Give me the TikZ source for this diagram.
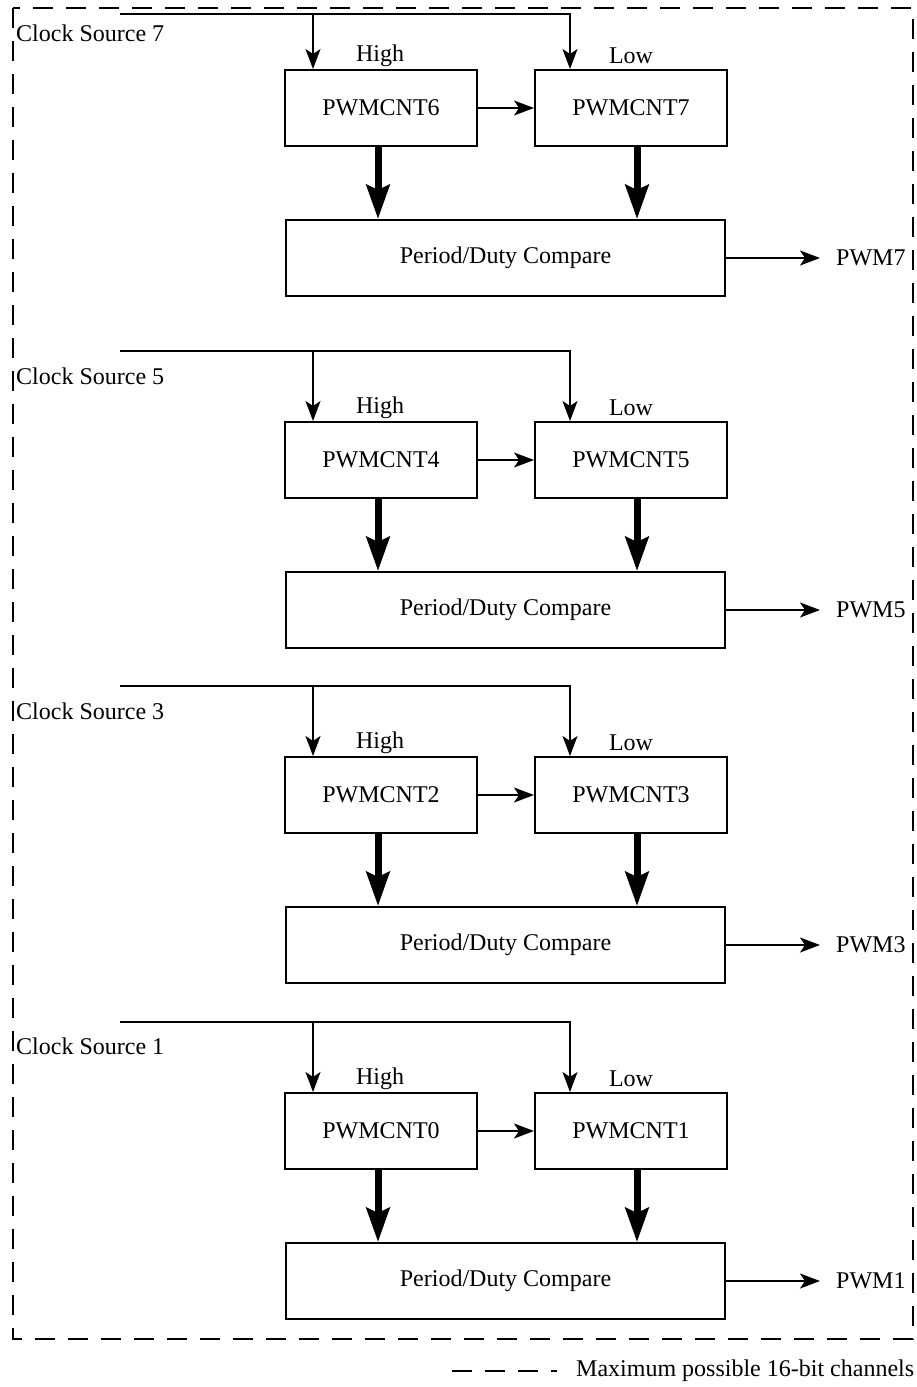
\documentclass[tikz,border=0pt]{standalone}
\usepackage{fontspec}
\setmainfont{Liberation Serif}
\usetikzlibrary{arrows.meta}
\tikzset{
  txt/.style={font=\fontsize{24}{28}\selectfont, inner sep=0pt},
  regbox/.style={draw, line width=2pt, minimum width=192pt, minimum height=76pt, font=\fontsize{24}{28}\selectfont},
  cmpbox/.style={draw, line width=2pt, minimum width=439pt, minimum height=76pt, font=\fontsize{24}{28}\selectfont},
  thinarrow/.style={line width=2pt, -{Stealth[length=20pt,width=15pt,inset=5pt]}},
  thickarrow/.style={line width=7pt, -{Stealth[length=34pt,width=23pt,inset=5pt]}},
  boundary/.style={line width=2.2pt, dash pattern=on 20pt off 13pt},
}
\begin{document}
\begin{tikzpicture}[x=1pt,y=-1pt]
\useasboundingbox (0,0) rectangle (916,1387);
\draw[boundary] (13,8) rectangle (913,1339);
\foreach \s/\L/\lab/\T/\cs/\hi/\lo in {0/14/33/70/7/6/7, 1/351/376/422/5/4/5, 2/686/711/757/3/2/3, 3/1022/1046/1093/1/0/1}{
  \node[txt, anchor=west] (cs\s) at (16,\lab) {Clock Source \cs};
  \node[txt] (high\s) at (380,\T-14) {High};
  \node[txt] (low\s) at (631,\T-14) {Low};
  \node[regbox] (h\s) at (381,\T+38) {PWMCNT\hi};
  \node[regbox] (l\s) at (631,\T+38) {PWMCNT\lo};
  \node[cmpbox] (c\s) at (505.5,\T+188) {Period/Duty Compare};
  \node[txt, anchor=west] (p\s) at (836,\T+188) {PWM\cs};
  \coordinate (s\s) at (120,\L);
  \coordinate (a\s) at (313,\L);
  \coordinate (b\s) at (570,\L);
  \draw[thinarrow] (s\s) -- (b\s) -- (b\s |- l\s.north);
  \draw[thinarrow] (a\s) -- (a\s |- h\s.north);
  \draw[thinarrow] (h\s) -- (l\s);
  \coordinate (x\s) at (378,\T);
  \coordinate (y\s) at (637,\T);
  \draw[thickarrow] (x\s |- h\s.south) -- (x\s |- c\s.north);
  \draw[thickarrow] (y\s |- l\s.south) -- (y\s |- c\s.north);
  \coordinate (e\s) at (820,\T+188);
  \draw[thinarrow] (c\s.east) -- (e\s);
}
\coordinate (lg1) at (452,1371);
\coordinate (lg2) at (557,1371);
\draw[boundary] (lg1) -- (lg2);
\node[txt, anchor=west] (legend) at (576,1371) {Maximum possible 16-bit channels};
\end{tikzpicture}
\end{document}
